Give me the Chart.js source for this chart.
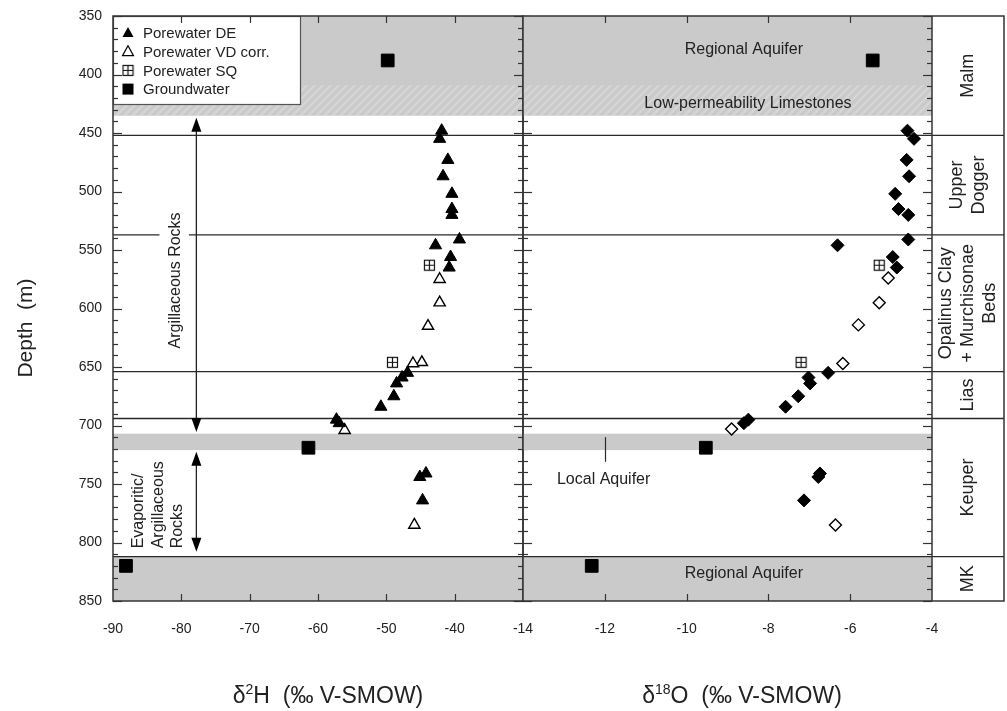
<!DOCTYPE html>
<html>
<head>
<meta charset="utf-8">
<script src="https://cdn.jsdelivr.net/npm/chart.js@4.4.0/dist/chart.umd.min.js"></script>
<style>
body { margin: 0; background: #fff; }
#wrap { position: relative; width: 1007px; height: 711px; overflow: hidden; background: #fff; }
#left { position: absolute; left: 0; top: 0; }
#right { position: absolute; left: 480px; top: 0; }
</style>
</head>
<body>
<div id="wrap">
  <canvas id="left" width="560" height="711"></canvas>
  <canvas id="right" width="527" height="711"></canvas>
</div>
<script>
var FONT = "'Liberation Sans', Arial, Helvetica, sans-serif";
var INK = '#222';
var GREY = '#cacaca';

// depth axis (m)
var depthMin = 350, depthMax = 850;

// Porewater DE (same samples for both isotopes)
var deDepth = [448, 455, 473, 487, 502, 515, 520, 541, 546, 556, 565, 655, 659, 664, 675, 684, 695, 698, 741, 744, 764];
var deH2 = [-41.9, -42.2, -41.0, -41.7, -40.4, -40.4, -40.4, -39.3, -42.8, -40.6, -40.8, -46.9, -47.7, -48.5, -48.9, -50.8, -57.3, -56.9, -44.2, -45.1, -44.7];
var deO18 = [-4.60, -4.44, -4.62, -4.56, -4.90, -4.82, -4.58, -4.58, -6.31, -4.96, -4.86, -6.54, -7.02, -6.98, -7.27, -7.58, -8.49, -8.60, -6.74, -6.78, -7.13];

// Porewater VD corr.
var vdDepthH = [575, 595, 615, 646, 647, 704, 785];
var vdH2 = [-42.2, -42.2, -43.9, -44.8, -46.1, -56.1, -45.9];
var vdDepthO = [574, 595, 614, 647, 703, 785];
var vdO18 = [-5.07, -5.29, -5.80, -6.18, -8.90, -6.36];

// Porewater SQ
var sqDepth = [563, 646];
var sqH2 = [-43.7, -49.1];
var sqO18 = [-5.29, -7.20];

// Groundwater
var gwDepth = [388, 719, 820];
var gwH2 = [-49.8, -61.4, -88.1];
var gwO18 = [-5.45, -9.53, -12.32];

// formations
var formationBounds = [350, 452, 537, 654, 694, 812, 850];
var formationNames = [['Malm'], ['Upper', 'Dogger'], ['Opalinus Clay', '+ Murchisonae', 'Beds'], ['Lias'], ['Keuper'], ['MK']];
var aquiferBands = [[350, 435], [707, 721], [812, 850]];
var limestoneBand = [409, 435];

var legendLabels = ['Porewater DE', 'Porewater VD corr.', 'Porewater SQ', 'Groundwater'];

function pts(xs, ys) {
  return xs.map(function (x, i) { return { x: x, y: ys[i] }; });
}

function makeSquarePlus() {
  var c = document.createElement('canvas');
  c.width = 13; c.height = 13;
  var g = c.getContext('2d');
  g.fillStyle = '#fff';
  g.fillRect(1, 1, 11, 11);
  g.strokeStyle = '#111';
  g.lineWidth = 1.2;
  g.strokeRect(1.5, 1.5, 10, 10);
  g.beginPath();
  g.moveTo(6.5, 1.5); g.lineTo(6.5, 11.5);
  g.moveTo(1.5, 6.5); g.lineTo(11.5, 6.5);
  g.stroke();
  return c;
}
var sqImage = makeSquarePlus();

function makeHatch(ctx) {
  var c = document.createElement('canvas');
  c.width = 8; c.height = 8;
  var g = c.getContext('2d');
  g.fillStyle = GREY;
  g.fillRect(0, 0, 8, 8);
  g.strokeStyle = '#d6d6d6';
  g.lineWidth = 2;
  g.beginPath();
  g.moveTo(0, 8); g.lineTo(8, 0);
  g.moveTo(-4, 4); g.lineTo(4, -4);
  g.moveTo(4, 12); g.lineTo(12, 4);
  g.stroke();
  return ctx.createPattern(c, 'repeat');
}

function makeDatasets(deX, vdX, vdY, sqX, gwX, openStyle, fillStyle) {
  return [
    { data: pts(deX, deDepth), pointStyle: fillStyle, pointRadius: fillStyle == 'triangle' ? 7 : 6.5,
      backgroundColor: '#000', borderColor: '#000', borderWidth: 1 },
    { data: pts(vdX, vdY), pointStyle: openStyle, pointRadius: openStyle == 'triangle' ? 6.5 : 6,
      backgroundColor: '#fff', borderColor: '#000', borderWidth: 1.4 },
    { data: pts(sqX, sqDepth), pointStyle: sqImage, pointRadius: 6,
      backgroundColor: '#fff', borderColor: '#000', borderWidth: 1 },
    { data: pts(gwX, gwDepth), pointStyle: 'rect', pointRadius: 9,
      backgroundColor: '#000', borderColor: '#000', borderWidth: 1 }
  ];
}

function vtext(ctx, str, x, y, align) {
  ctx.save();
  ctx.translate(x, y);
  ctx.rotate(-Math.PI / 2);
  ctx.textAlign = align;
  ctx.textBaseline = 'middle';
  ctx.fillText(str, 0, 0);
  ctx.restore();
}

function hline(ctx, x1, x2, y) {
  ctx.beginPath();
  ctx.moveTo(x1, y);
  ctx.lineTo(x2, y);
  ctx.stroke();
}

function arrow(ctx, x, y1, y2) {
  ctx.strokeStyle = '#222';
  ctx.lineWidth = 1.3;
  ctx.beginPath();
  ctx.moveTo(x, y1 + 8);
  ctx.lineTo(x, y2 - 8);
  ctx.stroke();
  ctx.fillStyle = '#000';
  ctx.beginPath();
  ctx.moveTo(x, y1); ctx.lineTo(x - 5, y1 + 14); ctx.lineTo(x + 5, y1 + 14); ctx.closePath();
  ctx.moveTo(x, y2); ctx.lineTo(x - 5, y2 - 14); ctx.lineTo(x + 5, y2 - 14); ctx.closePath();
  ctx.fill();
}

function drawBands(chart, x1, x2) {
  var ctx = chart.ctx, ys = chart.scales.y;
  ctx.save();
  ctx.fillStyle = GREY;
  aquiferBands.forEach(function (b) {
    var t = ys.getPixelForValue(b[0]), d = ys.getPixelForValue(b[1]);
    ctx.fillRect(x1, t, x2 - x1, d - t);
  });
  ctx.fillStyle = makeHatch(ctx);
  var ht = ys.getPixelForValue(limestoneBand[0]), hb = ys.getPixelForValue(limestoneBand[1]);
  ctx.fillRect(x1, ht, x2 - x1, hb - ht);
  ctx.restore();
}

function depthTicks(ctx, ys, x, inLeft, inRight) {
  for (var d = depthMin; d <= depthMax; d += 10) {
    var y = Math.round(ys.getPixelForValue(d)) + 0.5;
    var major = d % 50 === 0;
    var l = inLeft ? (major ? 9 : 5) : 0;
    var r = inRight ? (major ? 9 : 5) : 0;
    ctx.beginPath();
    ctx.moveTo(x - l, y);
    ctx.lineTo(x + r, y);
    ctx.stroke();
  }
}

function xTicks(ctx, xs, area, values) {
  values.forEach(function (v) {
    var x = Math.round(xs.getPixelForValue(v)) + 0.5;
    ctx.beginPath();
    ctx.moveTo(x, area.bottom); ctx.lineTo(x, area.bottom - 7);
    ctx.moveTo(x, area.top); ctx.lineTo(x, area.top + 7);
    ctx.stroke();
  });
}

function isoTitle(ctx, cx, baseY, head, sup, rest) {
  ctx.save();
  ctx.fillStyle = INK;
  ctx.textBaseline = 'alphabetic';
  ctx.textAlign = 'left';
  var big = '23px ' + FONT, small = '14px ' + FONT;
  ctx.font = big;
  var w1 = ctx.measureText(head).width, w3 = ctx.measureText(rest).width;
  ctx.font = small;
  var w2 = ctx.measureText(sup).width;
  var x = cx - (w1 + w2 + w3) / 2;
  ctx.font = big;
  ctx.fillText(head, x, baseY);
  ctx.font = small;
  ctx.fillText(sup, x + w1, baseY - 9);
  ctx.font = big;
  ctx.fillText(rest, x + w1 + w2, baseY);
  ctx.restore();
}

var leftDecor = {
  id: 'leftDecor',
  beforeDatasetsDraw: function (chart) {
    var ctx = chart.ctx, a = chart.chartArea, xs = chart.scales.x, ys = chart.scales.y;
    drawBands(chart, a.left, a.right);
    ctx.save();
    ctx.strokeStyle = '#2a2a2a';
    ctx.lineWidth = 1.3;
    formationBounds.slice(1, -1).forEach(function (d) {
      var y = ys.getPixelForValue(d);
      if (d === 537) {
        hline(ctx, a.left, xs.getPixelForValue(-83.2), y);
        hline(ctx, xs.getPixelForValue(-78.9), a.right, y);
      } else {
        hline(ctx, a.left, a.right, y);
      }
    });
    var ax = xs.getPixelForValue(-77.8);
    arrow(ctx, ax, ys.getPixelForValue(437), ys.getPixelForValue(705.5));
    arrow(ctx, ax, ys.getPixelForValue(722.5), ys.getPixelForValue(808));
    ctx.fillStyle = INK;
    ctx.font = '16px ' + FONT;
    vtext(ctx, 'Argillaceous Rocks', xs.getPixelForValue(-80.9), ys.getPixelForValue(576), 'center');
    var by = ys.getPixelForValue(805);
    vtext(ctx, 'Evaporitic/', xs.getPixelForValue(-86.3), by, 'left');
    vtext(ctx, 'Argillaceous', xs.getPixelForValue(-83.4), by, 'left');
    vtext(ctx, 'Rocks', xs.getPixelForValue(-80.5), by, 'left');
    ctx.restore();
  },
  afterDatasetsDraw: function (chart) {
    var ctx = chart.ctx, a = chart.chartArea, xs = chart.scales.x, ys = chart.scales.y;
    ctx.save();
    // legend box
    var lx = a.left, ly = a.top, lw = 187, lh = 88;
    ctx.fillStyle = '#fff';
    ctx.fillRect(lx, ly, lw, lh);
    ctx.strokeStyle = '#555';
    ctx.lineWidth = 1.2;
    ctx.strokeRect(lx + 0.5, ly + 0.5, lw, lh);
    ctx.font = '15px ' + FONT;
    ctx.textBaseline = 'middle';
    ctx.textAlign = 'left';
    legendLabels.forEach(function (lab, i) {
      var cy = ly + 17 + i * 18.7, cx = lx + 15;
      ctx.fillStyle = '#000';
      ctx.strokeStyle = '#000';
      ctx.lineWidth = 1.2;
      ctx.beginPath();
      if (i === 0 || i === 1) {
        ctx.moveTo(cx, cy - 6); ctx.lineTo(cx + 5.5, cy + 4); ctx.lineTo(cx - 5.5, cy + 4); ctx.closePath();
        if (i === 0) ctx.fill(); else ctx.stroke();
      } else if (i === 2) {
        ctx.drawImage(sqImage, cx - 6.5, cy - 6.5);
      } else {
        ctx.fillRect(cx - 5.5, cy - 5.5, 11, 11);
      }
      ctx.fillStyle = INK;
      ctx.fillText(lab, lx + 30, cy + 1);
    });
    // frame and ticks
    ctx.strokeStyle = '#333';
    ctx.lineWidth = 1.5;
    ctx.strokeRect(a.left, a.top, a.right - a.left, a.bottom - a.top);
    ctx.lineWidth = 1.2;
    depthTicks(ctx, ys, a.left, false, true);
    depthTicks(ctx, ys, a.right, true, true);
    xTicks(ctx, xs, a, [-80, -70, -60, -50, -40]);
    // axis titles
    ctx.fillStyle = INK;
    ctx.font = '21px ' + FONT;
    vtext(ctx, 'Depth  (m)', 26, 328, 'center');
    isoTitle(ctx, 328, 703, 'δ', '2', 'H  (‰ V-SMOW)');
    ctx.restore();
  }
};

var rightDecor = {
  id: 'rightDecor',
  beforeDatasetsDraw: function (chart) {
    var ctx = chart.ctx, a = chart.chartArea, xs = chart.scales.x, ys = chart.scales.y;
    var colRight = a.right + 72;
    drawBands(chart, a.left, a.right);
    ctx.save();
    ctx.strokeStyle = '#2a2a2a';
    ctx.lineWidth = 1.3;
    formationBounds.slice(1, -1).forEach(function (d) {
      hline(ctx, a.left, colRight, ys.getPixelForValue(d));
    });
    // local aquifer marker
    var mx = Math.round(xs.getPixelForValue(-12)) + 0.5;
    ctx.lineWidth = 1.2;
    ctx.beginPath();
    ctx.moveTo(mx, ys.getPixelForValue(710));
    ctx.lineTo(mx, ys.getPixelForValue(731));
    ctx.stroke();
    ctx.fillStyle = INK;
    ctx.font = '16px ' + FONT;
    ctx.textBaseline = 'middle';
    ctx.textAlign = 'center';
    ctx.fillText('Regional Aquifer', xs.getPixelForValue(-8.6), ys.getPixelForValue(379));
    ctx.fillText('Low-permeability Limestones', xs.getPixelForValue(-8.5), ys.getPixelForValue(425));
    ctx.fillText('Regional Aquifer', xs.getPixelForValue(-8.6), ys.getPixelForValue(827));
    ctx.textAlign = 'left';
    ctx.fillText('Local Aquifer', xs.getPixelForValue(-13.17), ys.getPixelForValue(746));
    ctx.restore();
  },
  afterDatasetsDraw: function (chart) {
    var ctx = chart.ctx, a = chart.chartArea, xs = chart.scales.x, ys = chart.scales.y;
    var colRight = a.right + 72;
    ctx.save();
    ctx.strokeStyle = '#333';
    ctx.lineWidth = 1.5;
    ctx.strokeRect(a.left, a.top, colRight - a.left, a.bottom - a.top);
    ctx.beginPath();
    ctx.moveTo(a.right, a.top); ctx.lineTo(a.right, a.bottom);
    ctx.stroke();
    ctx.lineWidth = 1.2;
    depthTicks(ctx, ys, a.right, true, false);
    xTicks(ctx, xs, a, [-12, -10, -8, -6]);
    // formation column labels
    ctx.fillStyle = INK;
    ctx.font = '18px ' + FONT;
    var cx = a.right + 36;
    formationNames.forEach(function (lines, i) {
      var cy = (ys.getPixelForValue(formationBounds[i]) + ys.getPixelForValue(formationBounds[i + 1])) / 2;
      var x0 = cx - (lines.length - 1) * 11;
      lines.forEach(function (s, j) {
        vtext(ctx, s, x0 + j * 22, cy, 'center');
      });
    });
    isoTitle(ctx, 742 - 480, 703, 'δ', '18', 'O  (‰ V-SMOW)');
    ctx.restore();
  }
};

function tickFont() { return { family: FONT, size: 14 }; }

var leftChart = new Chart(document.getElementById('left'), {
  type: 'scatter',
  data: { datasets: makeDatasets(deH2, vdH2, vdDepthH, sqH2, gwH2, 'triangle', 'triangle') },
  options: {
    responsive: false,
    animation: false,
    events: [],
    layout: { padding: { top: 16, right: 37, left: 0, bottom: 0 } },
    plugins: { legend: { display: false }, tooltip: { enabled: false } },
    scales: {
      x: {
        type: 'linear', min: -90, max: -30,
        grid: { display: false, drawTicks: false }, border: { display: false },
        ticks: { stepSize: 10, padding: 20, color: INK, font: tickFont(), maxRotation: 0,
          callback: function (v) { return v === -30 ? '' : v; } },
        afterFit: function (s) { s.height = 110; }
      },
      y: {
        type: 'linear', reverse: true, min: depthMin, max: depthMax,
        grid: { display: false, drawTicks: false }, border: { display: false },
        ticks: { stepSize: 50, padding: 11, color: INK, font: tickFont() },
        afterFit: function (s) { s.width = 113; s.paddingTop = 0; s.paddingBottom = 0; }
      }
    }
  },
  plugins: [leftDecor]
});

var rightChart = new Chart(document.getElementById('right'), {
  type: 'scatter',
  data: { datasets: makeDatasets(deO18, vdO18, vdDepthO, sqO18, gwO18, 'rectRot', 'rectRot') },
  options: {
    responsive: false,
    animation: false,
    events: [],
    layout: { padding: { top: 16, right: 75, left: 43, bottom: 0 } },
    plugins: { legend: { display: false }, tooltip: { enabled: false } },
    scales: {
      x: {
        type: 'linear', min: -14, max: -4,
        grid: { display: false, drawTicks: false }, border: { display: false },
        ticks: { stepSize: 2, padding: 20, color: INK, font: tickFont(), maxRotation: 0 },
        afterFit: function (s) { s.height = 110; }
      },
      y: { type: 'linear', display: false, reverse: true, min: depthMin, max: depthMax }
    }
  },
  plugins: [rightDecor]
});
</script>
</body>
</html>
